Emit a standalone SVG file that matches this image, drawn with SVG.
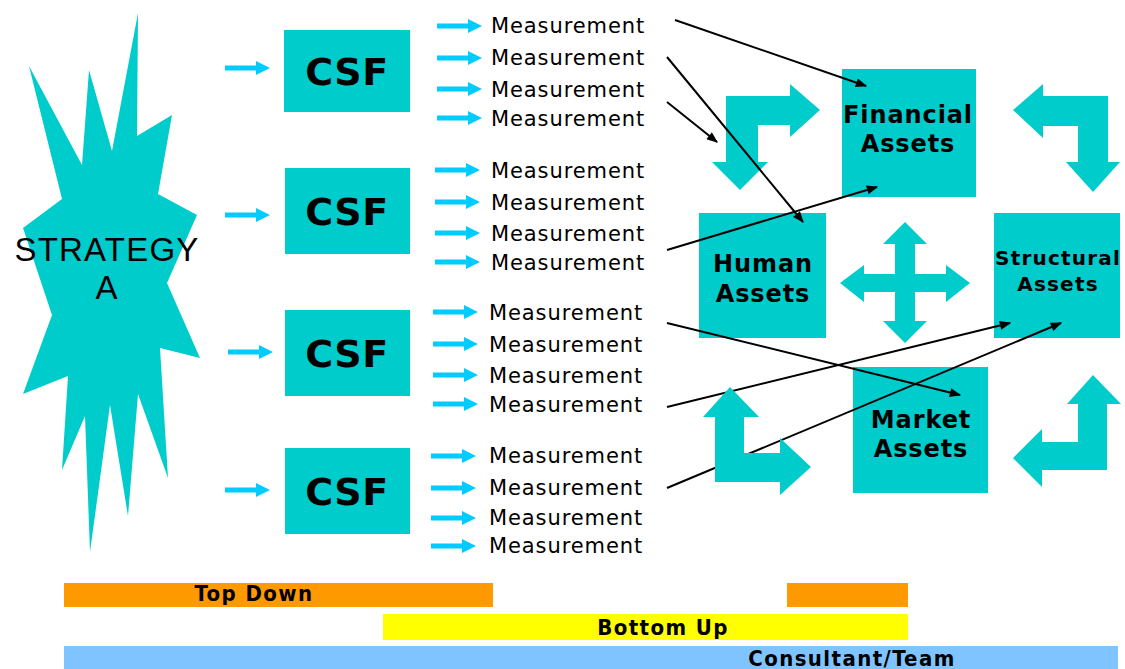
<svg xmlns="http://www.w3.org/2000/svg" width="1125" height="669" viewBox="0 0 1125 669">
  <style>
    .teal { fill: #00CCCC; }
    .cyan { fill: #00CCFF; }
    .csf { font-family: "DejaVu Sans", Verdana, sans-serif; font-weight: bold; font-size: 38px; letter-spacing: 0.5px; fill: #000; text-anchor: middle; }
    .meas { font-family: "DejaVu Sans", Verdana, sans-serif; font-size: 21px; letter-spacing: 0.9px; fill: #000; }
    .asset { font-family: "DejaVu Sans", Verdana, sans-serif; font-weight: bold; font-size: 24px; letter-spacing: 0.9px; fill: #000; text-anchor: middle; }
    .asset-sm { font-family: "DejaVu Sans", Verdana, sans-serif; font-weight: bold; font-size: 20px; letter-spacing: 1.2px; fill: #000; text-anchor: middle; }
    .strategy { font-family: "Liberation Sans", Arial, sans-serif; font-size: 33px; letter-spacing: 1.2px; fill: #000; text-anchor: middle; }
    .bar { font-family: "DejaVu Sans Condensed", "DejaVu Sans", sans-serif; font-stretch: condensed; font-weight: bold; font-size: 22px; letter-spacing: 1.4px; fill: #000; text-anchor: middle; }
    .link { fill: none; stroke: #000; stroke-width: 2; marker-end: url(#head); }
  </style>
  <defs>
    <marker id="head" viewBox="0 0 10 8" refX="9" refY="4" markerUnits="userSpaceOnUse" markerWidth="12" markerHeight="9" orient="auto">
      <path d="M0,0 L10,4 L0,8 Z" fill="#000"/>
    </marker>
    <!-- small cyan feed arrow, origin at the left end of its shaft -->
    <path id="feed" class="cyan" d="M0,-2.5 H31 V-7 L45,0 L31,7 V2.5 H0 Z"/>
  </defs>

  <!-- strategy starburst -->
  <g id="strategy">
    <polygon class="teal" points="138,13 137,136 172,115 158,194 197,215 167,283 200,358 160,348 168,478 138,394 128,516 110,405 90,552 85,416 62,470 68,376 23,394 52,315 23,228 62,199 29,66 82,165 89,70 112,151"/>
    <text class="strategy" x="107" y="261">STRATEGY</text>
    <text class="strategy" x="107" y="299">A</text>
  </g>

  <!-- critical success factors -->
  <g id="csf1">
    <use href="#feed" x="225" y="68"/>
    <rect class="teal" x="284" y="30" width="126" height="82"/>
    <text class="csf" x="347" y="85">CSF</text>
  </g>
  <g id="csf2">
    <use href="#feed" x="225" y="215"/>
    <rect class="teal" x="285" y="168" width="125" height="86"/>
    <text class="csf" x="347" y="225">CSF</text>
  </g>
  <g id="csf3">
    <use href="#feed" x="228" y="352"/>
    <rect class="teal" x="285" y="310" width="125" height="86"/>
    <text class="csf" x="347" y="367">CSF</text>
  </g>
  <g id="csf4">
    <use href="#feed" x="225" y="490"/>
    <rect class="teal" x="285" y="448" width="125" height="86"/>
    <text class="csf" x="347" y="505">CSF</text>
  </g>

  <!-- measurements per CSF -->
  <g id="measures1">
    <use href="#feed" x="437" y="26"/><text class="meas" x="491" y="33">Measurement</text>
    <use href="#feed" x="437" y="58"/><text class="meas" x="491" y="65">Measurement</text>
    <use href="#feed" x="437" y="89"/><text class="meas" x="491" y="97">Measurement</text>
    <use href="#feed" x="437" y="118"/><text class="meas" x="491" y="126">Measurement</text>
  </g>
  <g id="measures2">
    <use href="#feed" x="435" y="170"/><text class="meas" x="491" y="178">Measurement</text>
    <use href="#feed" x="435" y="202"/><text class="meas" x="491" y="210">Measurement</text>
    <use href="#feed" x="435" y="233"/><text class="meas" x="491" y="241">Measurement</text>
    <use href="#feed" x="435" y="262"/><text class="meas" x="491" y="270">Measurement</text>
  </g>
  <g id="measures3">
    <use href="#feed" x="433" y="312"/><text class="meas" x="489" y="320">Measurement</text>
    <use href="#feed" x="433" y="344"/><text class="meas" x="489" y="352">Measurement</text>
    <use href="#feed" x="433" y="375"/><text class="meas" x="489" y="383">Measurement</text>
    <use href="#feed" x="433" y="404"/><text class="meas" x="489" y="412">Measurement</text>
  </g>
  <g id="measures4">
    <use href="#feed" x="431" y="456"/><text class="meas" x="489" y="463">Measurement</text>
    <use href="#feed" x="431" y="488"/><text class="meas" x="489" y="495">Measurement</text>
    <use href="#feed" x="431" y="518"/><text class="meas" x="489" y="525">Measurement</text>
    <use href="#feed" x="431" y="546"/><text class="meas" x="489" y="553">Measurement</text>
  </g>

  <!-- asset boxes -->
  <g id="financial">
    <rect class="teal" x="842" y="69" width="134" height="128"/>
    <text class="asset" x="908" y="123">Financial</text>
    <text class="asset" x="908" y="152">Assets</text>
  </g>
  <g id="human">
    <rect class="teal" x="699" y="213" width="127" height="125"/>
    <text class="asset" x="763" y="272">Human</text>
    <text class="asset" x="763" y="302">Assets</text>
  </g>
  <g id="structural">
    <rect class="teal" x="994" y="213" width="126" height="125"/>
    <text class="asset-sm" x="1058" y="265">Structural</text>
    <text class="asset-sm" x="1058" y="291">Assets</text>
  </g>
  <g id="market">
    <rect class="teal" x="853" y="367" width="135" height="126"/>
    <text class="asset" x="921" y="428">Market</text>
    <text class="asset" x="921" y="457">Assets</text>
  </g>

  <!-- flow arrows between the asset boxes -->
  <g id="flow-top-left">
    <polygon class="teal" points="726,96 790,96 790,84 820,110 790,137 790,125 758,125 758,162 768,162 740,190 712,162 726,162"/>
  </g>
  <g id="flow-top-right">
    <polygon class="teal" points="1013,110 1043,84 1043,96 1108,96 1108,162 1120,162 1093,192 1066,162 1078,162 1078,126 1043,126 1043,138"/>
  </g>
  <g id="flow-bottom-right">
    <polygon class="teal" points="1093,375 1121,404 1107,404 1107,470 1042,470 1042,487 1013,458 1042,429 1042,442 1078,442 1078,404 1067,404"/>
  </g>
  <g id="flow-cross">
    <polygon class="teal" points="905,222 927,244 915,244 915,274 946,274 946,265 970,283 946,302 946,292 915,292 915,321 927,321 905,343 883,321 895,321 895,292 864,292 864,302 840,283 864,265 864,274 895,274 895,244 883,244"/>
  </g>

  <!-- measurement-to-asset connectors -->
  <g id="connectors">
    <line class="link" x1="675" y1="20" x2="866" y2="86"/>
    <line class="link" x1="667" y1="57" x2="803" y2="222"/>
    <line class="link" x1="667" y1="102" x2="717" y2="142"/>
    <line class="link" x1="667" y1="250" x2="877" y2="187"/>
    <line class="link" x1="667" y1="323" x2="960" y2="395"/>
    <line class="link" x1="667" y1="407" x2="1010" y2="323"/>
    <line class="link" x1="667" y1="488" x2="1061" y2="323"/>
  </g>

  <g id="flow-bottom-left">
    <polygon class="teal" points="730,387 759,417 744,417 744,453 780,453 780,438 811,467 780,495 780,482 715,482 715,417 703,417"/>
  </g>

  <!-- approach bars -->
  <g id="top-down">
    <rect x="64" y="583" width="429" height="24" fill="#FF9900"/>
    <rect x="787" y="583" width="121" height="24" fill="#FF9900"/>
    <text class="bar" x="254" y="601">Top Down</text>
  </g>
  <g id="bottom-up">
    <rect x="383" y="614" width="525" height="26" fill="#FFFF00"/>
    <text class="bar" x="663" y="635">Bottom Up</text>
  </g>
  <g id="consultant-team">
    <rect x="64" y="646" width="1054" height="23" fill="#80C4FF"/>
    <text class="bar" x="852" y="666">Consultant/Team</text>
  </g>
</svg>
